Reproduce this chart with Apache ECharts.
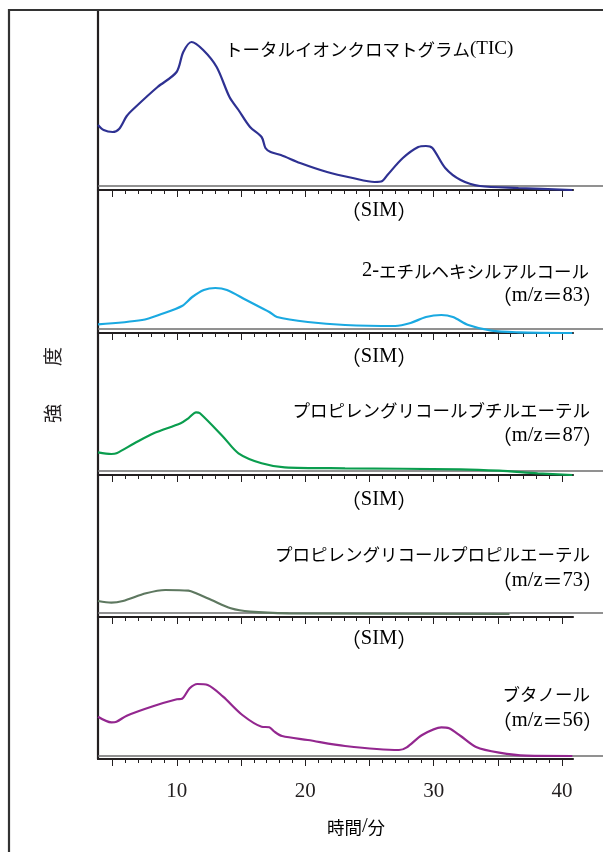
<!DOCTYPE html>
<html><head><meta charset="utf-8">
<script src="https://cdn.jsdelivr.net/npm/echarts@6/dist/echarts.min.js"></script>
<style>html,body{margin:0;padding:0;background:#fff}#c{width:603px;height:852px}</style>
</head><body><div id="c"></div>
<script>
// ---- data (time in minutes, relative intensity) ----
const xMin = 3.86, xMax = 40.85;
const minorTicks = [5,6,7,8,9,10,11,12,13,14,15,16,17,18,19,20,21,22,23,24,25,26,27,28,29,30,31,32,33,34,35,36,37,38,39,40];
const majorTicks = [5,10,15,20,25,30,35,40];
const tickLabels = [10,20,30,40];

const ticT = [3.86,4.3,5.0,5.5,6.1,6.7,8.5,9.98,10.5,11.14,12.05,13.1,14.1,14.8,15.7,16.6,16.9,17.3,18.1,19.6,21.7,23.7,25.4,26.0,26.4,27.6,28.8,29.4,29.9,30.9,32.1,33.6,36.6,40.8];
const ticV = [65,60,58,61,74,82,103,118,138,148,140,123,93,80,63,53,42,38,35,27,18,12,8,9,15,32,43,44,42,22,10,4,2,0];

const ehT = [3.86,7.3,8.8,10.4,11.2,12.1,13.0,13.9,15.4,16.6,17.2,17.8,20.2,23.1,27.0,28.2,29.4,30.6,31.5,32.7,34.5,36.6,40.8];
const ehV = [8.7,13,19,27,36,43,45,43,33,25,21,16,11,8,7,10,16,18,16,8,2.3,0.7,0];

const pgbT = [3.86,4.9,5.3,6.7,8.2,10.3,10.9,11.5,11.8,13.6,14.8,16.6,18.4,23.1,32.1,35.1,38.1,40.8];
const pgbV = [22.7,21,21.7,31.7,41.7,51.7,56.7,62.7,61.7,38.3,21.7,11.7,7.7,6.7,5.7,4.3,1.7,0];

const pgpT = [3.86,4.9,5.8,7.6,9.1,10.9,11.5,12.7,14.2,15.7,18.7,35.9];
const pgpV = [16,14.3,16,23.7,27,26.3,23.7,17,8.7,5.3,3.7,3];

const buT = [3.86,4.9,5.3,6.1,8.2,10.0,10.4,11.0,11.6,12.4,13.6,15.1,16.6,17.2,17.6,18.2,20.2,23.1,27.3,27.9,29.1,30.6,31.2,32.1,33.3,35.1,37.2,40.8];
const buV = [42.3,36.7,37.3,43.3,53,59.7,60.3,70.7,75,74,62.3,44,32.3,31.7,27.3,23,19,13,9,11.7,24,31.7,30.7,23,12,6.3,3.3,3];

const yMaxes = [180,143,142,142,142];
const baselineVals = [4,4,4,4,3];
const colors = ['#2e3192','#1aa9e1','#0a9d4e','#5e7860','#93278f'];
const seriesT = [ticT, ehT, pgbT, pgpT, buT];
const seriesV = [ticV, ehV, pgbV, pgpV, buV];
const seriesNames = ['トータルイオンクロマトグラム（TIC）','2-エチルヘキシルアルコール','プロピレングリコールブチルエーテル','プロピレングリコールプロピルエーテル','ブタノール'];

// ---- layout ----
const gridTops = [10,190,333,475,617];
const gridHeights = [180,143,142,142,142];
const SERIF = "'Liberation Serif','Noto Sans CJK JP',serif";
const CJK = "'Noto Sans CJK JP',sans-serif";
const INK = '#231f20';

const grids = [], xAxes = [], yAxes = [], series = [];
for (let i = 0; i < 5; i++) {
  grids.push({left: 98, width: 475, top: gridTops[i], height: gridHeights[i]});
  xAxes.push({
    type: 'value', gridIndex: i, min: xMin, max: xMax, position: 'bottom',
    axisLine: {show: true, onZero: false, lineStyle: {color: INK, width: 2.2}},
    axisTick: {show: true, customValues: minorTicks, length: 4, lineStyle: {color: INK, width: 1}},
    axisLabel: i === 4 ? {show: true, customValues: tickLabels, margin: 22, fontFamily: SERIF, fontSize: 21, color: INK} : {show: false},
    splitLine: {show: false}
  });
  xAxes.push({
    type: 'value', gridIndex: i, min: xMin, max: xMax, position: 'bottom',
    axisLine: {show: false, onZero: false},
    axisTick: {show: true, customValues: majorTicks, length: 7, lineStyle: {color: INK, width: 1}},
    axisLabel: {show: false},
    splitLine: {show: false}
  });
  yAxes.push({
    type: 'value', gridIndex: i, min: 0, max: yMaxes[i],
    axisLine: {show: true, lineStyle: {color: INK, width: 2.2}},
    axisTick: {show: false}, axisLabel: {show: false}, splitLine: {show: false}
  });
  series.push({
    name: seriesNames[i], type: 'line', xAxisIndex: i * 2, yAxisIndex: i,
    data: seriesT[i].map((t, k) => [t, seriesV[i][k]]),
    showSymbol: false, smooth: 0.3,
    lineStyle: {color: colors[i], width: 2.2}, z: 5
  });
}

const chart = echarts.init(document.getElementById('c'), null, {renderer: 'canvas'});
chart.setOption({
  animation: false,
  backgroundColor: '#fff',
  grid: grids, xAxis: xAxes, yAxis: yAxes, series: series
});

// ---- decorations and labels ----
const rich = {
  k: {fontFamily: CJK, fontSize: 17.5, color: INK},
  p: {fontFamily: CJK, fontSize: 20, color: INK},
  l: {fontFamily: "'Liberation Serif',serif", fontSize: 20.5, color: INK},
  t: {fontFamily: "'Liberation Serif',serif", fontSize: 19, color: INK}
};
const g = [];
g.push({type: 'polyline', shape: {points: [[9, 852], [9, 10], [603, 10]]}, style: {stroke: '#333', lineWidth: 2.2, fill: null}, z: 10});
for (let i = 0; i < 5; i++) {
  const py = chart.convertToPixel({yAxisIndex: i}, baselineVals[i]);
  const px0 = chart.convertToPixel({xAxisIndex: i * 2}, xMin);
  g.push({type: 'line', shape: {x1: px0, y1: py, x2: 603, y2: py}, style: {stroke: '#6d6d6d', lineWidth: 1.3}, z: 4});
}
function txt(text, x, y, align) {
  g.push({type: 'text', x: x, y: y, style: {text: text, rich: rich, textAlign: align, textVerticalAlign: 'middle'}, z: 20});
}
txt('{k|トータルイオンクロマトグラム}{t|(TIC)}', 225, 49, 'left');
const simY = [211, 357, 500, 639];
simY.forEach(y => txt('{p|（}{l|SIM}{p|）}', 379, y, 'center'));
txt('{l|2-}{k|エチルヘキシルアルコール}', 589, 271, 'right');
txt('{p|（}{l|m/z}{p|＝}{l|83}{p|）}', 603, 296, 'right');
txt('{k|プロピレングリコールブチルエーテル}', 590, 410, 'right');
txt('{p|（}{l|m/z}{p|＝}{l|87}{p|）}', 603, 436, 'right');
txt('{k|プロピレングリコールプロピルエーテル}', 590, 554, 'right');
txt('{p|（}{l|m/z}{p|＝}{l|73}{p|）}', 603, 581, 'right');
txt('{k|ブタノール}', 590, 694, 'right');
txt('{p|（}{l|m/z}{p|＝}{l|56}{p|）}', 603, 721, 'right');
txt('{k|時間}{l|/}{k|分}', 356, 827, 'center');
g.push({type: 'text', x: 53, y: 385, rotation: Math.PI / 2, style: {text: '強　　度', fill: INK, font: '19px ' + CJK, textAlign: 'center', textVerticalAlign: 'middle'}, z: 20});
chart.setOption({graphic: g});
</script>
</body></html>
